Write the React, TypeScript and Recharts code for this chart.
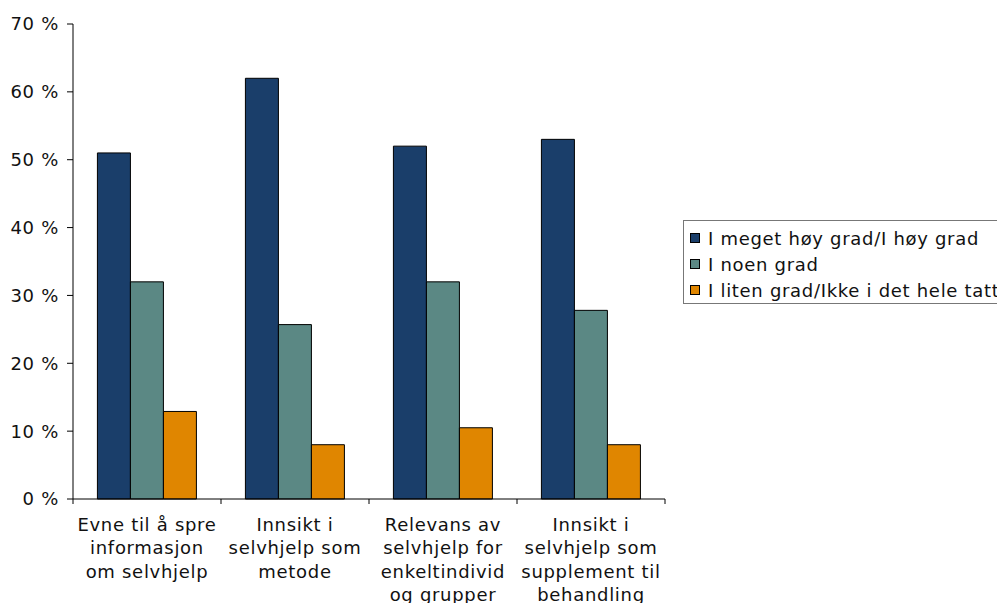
import React from 'react';
import { BarChart, Bar, XAxis, YAxis } from 'recharts';

const categories = [
  'Evne til å spre\ninformasjon\nom selvhjelp',
  'Innsikt i\nselvhjelp som\nmetode',
  'Relevans av\nselvhjelp for\nenkeltindivid\nog grupper',
  'Innsikt i\nselvhjelp som\nsupplement til\nbehandling',
];

const seriesNames = [
  'I meget høy grad/I høy grad',
  'I noen grad',
  'I liten grad/Ikke i det hele tatt',
];

const highValues = [51, 62, 52, 53];
const someValues = [32, 25.7, 32, 27.8];
const lowValues = [12.9, 8, 10.5, 8];

const yTicks = [0, 10, 20, 30, 40, 50, 60, 70];

const colors = ['#1a3e6a', '#5b8884', '#e08600'];
const FONT = '"DejaVu Sans", Verdana, sans-serif';
const FONT_SIZE = 18;
const SPACING = 0.7;

const data = categories.map((name, i) => ({
  name,
  high: highValues[i],
  some: someValues[i],
  low: lowValues[i],
}));

const keys = ['high', 'some', 'low'];

// category label centred under each group, tick marks on the group boundaries
const CategoryTick = (props: any) => {
  const { x, y, payload, index, width, visibleTicksCount } = props;
  const half = payload?.offset || width / visibleTicksCount / 2;
  const lines = String(payload.value).split('\n');
  return (
    <g>
      <line x1={x - half} x2={x - half} y1={y - 8} y2={y - 3} stroke="#000" />
      {index === visibleTicksCount - 1 && (
        <line x1={x + half} x2={x + half} y1={y - 8} y2={y - 3} stroke="#000" />
      )}
      <text
        x={x}
        y={y + 24}
        textAnchor="middle"
        fill="#111"
        fontSize={FONT_SIZE}
        fontFamily={FONT}
        letterSpacing={SPACING}
      >
        {lines.map((l, i) => (
          <tspan key={i} x={x} dy={i === 0 ? 0 : 23.3}>
            {l}
          </tspan>
        ))}
      </text>
    </g>
  );
};

const LegendBox = () => (
  <div
    style={{
      position: 'absolute',
      left: 683,
      top: 220,
      width: 330,
      border: '1px solid #777',
      padding: '4px 0 0 6px',
      fontFamily: FONT,
      fontSize: FONT_SIZE,
      letterSpacing: SPACING,
      color: '#111',
      background: '#fff',
    }}
  >
    {seriesNames.map((n, i) => (
      <div key={n} style={{ display: 'flex', alignItems: 'center', height: 26 }}>
        <span
          style={{
            display: 'inline-block',
            width: 8,
            height: 8,
            background: colors[i],
            border: '1px solid #000',
            marginRight: 8,
          }}
        />
        <span style={{ whiteSpace: 'nowrap' }}>{n}</span>
      </div>
    ))}
  </div>
);

export default function App() {
  return (
    <div style={{ position: 'absolute', left: 0, top: 0, width: 997, height: 603, overflow: 'hidden', background: '#fff' }}>
      <BarChart
        width={997}
        height={603}
        data={data}
        margin={{ top: 24, right: 332, left: 0, bottom: 0 }}
        barCategoryGap="16.5%"
        barGap={0}
      >
        <XAxis
          dataKey="name"
          height={104}
          stroke="#000"
          tickLine={false}
          interval={0}
          tick={<CategoryTick />}
        />
        <YAxis
          domain={[0, 70]}
          ticks={yTicks}
          width={73}
          stroke="#000"
          tickSize={6}
          tickMargin={8}
          tickFormatter={(v: number) => `${v} %`}
          tick={{ fill: '#111', fontSize: FONT_SIZE, fontFamily: FONT, letterSpacing: SPACING }}
        />
        {keys.map((k, i) => (
          <Bar
            key={k}
            dataKey={k}
            name={seriesNames[i]}
            fill={colors[i]}
            stroke="#000"
            strokeWidth={1}
            isAnimationActive={false}
          />
        ))}
      </BarChart>
      <LegendBox />
    </div>
  );
}
